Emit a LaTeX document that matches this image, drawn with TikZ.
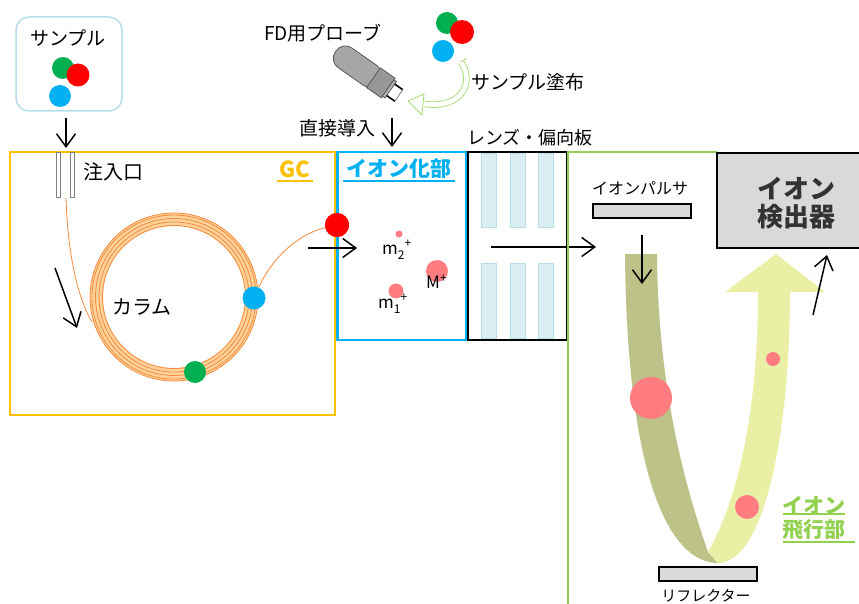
\documentclass[tikz,border=0pt]{standalone}
\usepackage{fontspec}
\setmainfont{Noto Sans CJK JP}
\usetikzlibrary{arrows.meta}

\definecolor{gcorange}{HTML}{FFC000}
\definecolor{ionblue}{HTML}{00B0F0}
\definecolor{tofgreen}{HTML}{92D050}
\definecolor{dotgreen}{HTML}{00B050}
\definecolor{dotred}{HTML}{FF0000}
\definecolor{dotblue}{HTML}{00B0F0}
\definecolor{ionpink}{HTML}{FF7C80}
\definecolor{ringfill}{HTML}{FCD39B}
\definecolor{ringline}{HTML}{F58A3C}
\definecolor{platefill}{HTML}{DAEEF3}
\definecolor{plateedge}{HTML}{B7DEE8}
\definecolor{boxedge}{HTML}{B7DEE8}
\definecolor{devgray}{HTML}{D9D9D9}
\definecolor{bandolive}{HTML}{BCC288}
\definecolor{bandlight}{HTML}{E9F0A6}
\definecolor{probebody}{HTML}{A6A6A6}
\definecolor{probecollar}{HTML}{979797}
\definecolor{probeedge}{HTML}{595959}
\definecolor{detext}{HTML}{333333}

\newcommand{\fsz}[1]{\fontsize{#1}{#1}\selectfont}

\tikzset{
  arr/.style={draw=black, line width=1.5pt,
    -{Straight Barb[length=13pt, width=19pt, line width=1.5pt]}},
  dot/.style={circle, inner sep=0pt, minimum size=#1, draw=none},
  plate/.style={fill=platefill, draw=plateedge, line width=1pt},
  lbl/.style={inner sep=0pt, text=black},
  tube/.style={draw=ringline, line width=0.8pt},
}

\begin{document}
\begin{tikzpicture}[x=1pt, y=-1pt]
\useasboundingbox (0,0) rectangle (859,604);

% ---------- sample vial ----------
\node[draw=boxedge, line width=1.5pt, rounded corners=13pt, fill=white,
      minimum width=106pt, minimum height=94pt, inner sep=0pt] (samplebox) at (69,64) {};
\node[lbl, font=\fsz{19}] (sampletxt) at (68,38) {サンプル};
\node[dot=22pt, fill=dotgreen] (sg) at (63,68) {};
\node[dot=23pt, fill=dotred] (sr) at (78,75) {};
\node[dot=22pt, fill=dotblue] (sb) at (60,96) {};

% ---------- GC oven ----------
\node[draw=gcorange, line width=2.5pt, minimum width=325pt, minimum height=263pt,
      inner sep=0pt] (gcbox) at (172.5,283.5) {};
\node[lbl, font=\fsz{22}\bfseries, text=gcorange] (gc) at (295,169) {GC};
\draw[gcorange, line width=1.5pt] (277,181) -- (313,181);

% injection port
\node[draw=gray, fill=white, line width=0.8pt, minimum width=4pt, minimum height=45pt,
      inner sep=0pt] (portl) at (58,174.5) {};
\node[draw=gray, fill=white, line width=0.8pt, minimum width=4pt, minimum height=45pt,
      inner sep=0pt] (portr) at (72,174.5) {};
\node[lbl, font=\fsz{20}] (porttxt) at (113,172) {注入口};
\coordinate (s1) at (66,118);
\coordinate (s2) at (66,148);
\draw[arr] (s1) -- (s2);

% column coil
\coordinate (coil) at (174,297);
\fill[ringfill, even odd rule] (coil) circle[radius=84pt] (coil) circle[radius=71pt];
\foreach \r in {71.5,75,78.5,82,84}
  \draw[tube] (coil) circle[radius=\r pt];
\node[lbl, font=\fsz{20}] (coltxt) at (142,307) {カラム};

% carrier flow line
\coordinate (inlet) at (66,198);
\coordinate (coilin) at (92,322);
\draw[ringline, line width=0.8pt] (inlet) .. controls (68,262) and (80,302) .. (coilin);

\node[dot=22pt, fill=dotgreen] (cg) at (195,372) {};
\node[dot=23pt, fill=dotblue] (cb) at (254,298) {};
\node[dot=24pt, fill=dotred] (cr) at (337,225) {};
\draw[ringline, line width=0.8pt] (cb) .. controls (272,258) and (298,234) .. (cr);

\coordinate (f1) at (55,268);
\coordinate (f2) at (77,328);
\draw[arr] (f1) -- (f2);

% ---------- ionisation chamber ----------
\node[draw=ionblue, line width=2.5pt, minimum width=129pt, minimum height=188pt,
      inner sep=0pt] (ionbox) at (402,246) {};
\node[lbl, font=\fsz{21}\bfseries, text=ionblue] (iontxt) at (399,169) {イオン化部};
\draw[ionblue, line width=1.5pt] (343,181) -- (455,181);
% red dot sits on the wall, redraw it over the box edge
\node[dot=24pt, fill=dotred] (cr2) at (337,225) {};

\coordinate (i1) at (308,248);
\coordinate (i2) at (357,248);
\draw[arr] (i1) -- (i2);

\node[dot=7pt, fill=ionpink] (m2dot) at (399,234) {};
\node[dot=22pt, fill=ionpink] (Mdot) at (437,271) {};
\node[dot=15pt, fill=ionpink] (m1dot) at (396,291) {};
\node[lbl, font=\fsz{17}, anchor=west] (m2) at (382,250)
  {m\raisebox{-5pt}{\fsz{12}2}\raisebox{7pt}{\fsz{12}+}};
\node[lbl, font=\fsz{17}, anchor=west] (M) at (426,282)
  {M\raisebox{6pt}{\fsz{12}+}};
\node[lbl, font=\fsz{17}, anchor=west] (m1) at (378,304)
  {m\raisebox{-5pt}{\fsz{12}1}\raisebox{7pt}{\fsz{12}+}};

% FD probe and direct introduction
\node[lbl, font=\fsz{19}] (fdtxt) at (323,33) {FD用プローブ};
\begin{scope}[shift={(371,76)}, rotate=-35]
  \draw[fill=probebody, draw=probeedge, line width=0.8pt, rounded corners=11pt]
    (-43,-12) rectangle (10,12);
  \draw[fill=probecollar, draw=probeedge, line width=0.8pt] (3,-12) rectangle (21,12);
  \draw[fill=probebody!80!white, draw=probeedge, line width=0.8pt] (21,-10) rectangle (24,10);
  \draw[black, line width=1.6pt] (24,-7) -- (34,-7) (24,7) -- (34,7);
  \draw[gray, line width=0.8pt] (34,-7) -- (34,7);
\end{scope}

\node[dot=22pt, fill=dotgreen] (tg) at (447,23) {};
\node[dot=24pt, fill=dotred] (tr) at (462,32) {};
\node[dot=22pt, fill=dotblue] (tb) at (443,51) {};
\node[lbl, font=\fsz{19}] (coattxt) at (528,82) {サンプル塗布};

% hollow curved arrow: sample applied to the emitter
\coordinate (c1) at (461,62);
\coordinate (c2) at (425,104);
\draw[tofgreen!80!white, line width=6.5pt] (c1) .. controls (475,82) and (462,109) .. (c2);
\draw[white, line width=4.8pt] (c1) .. controls (475,82) and (462,109) .. (c2);
\draw[tofgreen!80!white, line width=0.8pt] (c1) -- ++(5.5,-3.5);
\draw[tofgreen!80!white, fill=white, line width=0.8pt, line join=round]
  (424,94) -- (408,101) -- (422,115) -- cycle;

\node[lbl, font=\fsz{19}] (directtxt) at (337,128) {直接導入};
\coordinate (d1) at (392,118);
\coordinate (d2) at (392,147);
\draw[arr] (d1) -- (d2);

% ---------- lens / deflector ----------
\node[draw=black, line width=2.5pt, minimum width=99pt, minimum height=188pt,
      inner sep=0pt] (lensbox) at (517.5,246) {};
\node[lbl, font=\fsz{18}] (lenstxt) at (530,138) {レンズ・偏向板};
\foreach \x in {481,510,538}{
  \draw[plate] (\x,154) rectangle (\x+15,227);
  \draw[plate] (\x,263) rectangle (\x+15,338);
}
\coordinate (l1) at (491,247);
\coordinate (l2) at (596,247);
\draw[arr] (l1) -- (l2);

% ---------- time-of-flight section ----------
\coordinate (t0) at (568,152);
\draw[tofgreen, line width=2pt] (568,606) -- (t0) -- (717,152);

\node[lbl, font=\fsz{16}] (pulsertxt) at (640,188) {イオンパルサ};
\node[draw=black, fill=devgray, line width=1.5pt, minimum width=98pt,
      minimum height=14pt, inner sep=0pt] (pulser) at (642,211) {};

% flight path: descending band, then returning band ending in a broad arrow
\fill[bandolive] (625,254) .. controls (627,480) and (670,563) .. (718,563)
  -- (708,552) .. controls (690,500) and (658,400) .. (657,254) -- cycle;
\fill[bandlight] (718,563) .. controls (765,563) and (790,430) .. (790,292)
  -- (825,292) -- (776,254) -- (725,292) -- (758,292)
  .. controls (758,420) and (735,505) .. (708,552) -- cycle;

\node[dot=42pt, fill=ionpink] (p1) at (651,398) {};
\node[dot=14pt, fill=ionpink] (p2) at (773,359) {};
\node[dot=24pt, fill=ionpink] (p3) at (747,507) {};

\coordinate (u1) at (642,235);
\coordinate (u2) at (642,284);
\draw[arr] (u1) -- (u2);

% detector
\node[draw=black, fill=devgray, line width=1.8pt, minimum width=146pt,
      minimum height=95pt, inner sep=0pt] (detbox) at (790,200.5) {};
\node[lbl, font=\fsz{26}\bfseries, text=detext, align=left, anchor=west]
  (dettxt) at (757,203) {イオン\\[2pt]検出器};
\coordinate (r1) at (813,315);
\coordinate (r2) at (827,255);
\draw[arr] (r1) -- (r2);

% reflectron
\node[draw=black, fill=devgray, line width=1.5pt, minimum width=98pt,
      minimum height=14pt, inner sep=0pt] (reflector) at (708,574) {};
\node[lbl, font=\fsz{15}] (refltxt) at (706,596) {リフレクター};

\node[lbl, font=\fsz{21}\bfseries, text=tofgreen, align=left, anchor=west]
  (toftxt) at (782,518) {イオン\\[3pt]飛行部};
\draw[tofgreen, line width=1.5pt] (783,514) -- (845,514);
\draw[tofgreen, line width=1.5pt] (783,542) -- (855,542);

\end{tikzpicture}
\end{document}
